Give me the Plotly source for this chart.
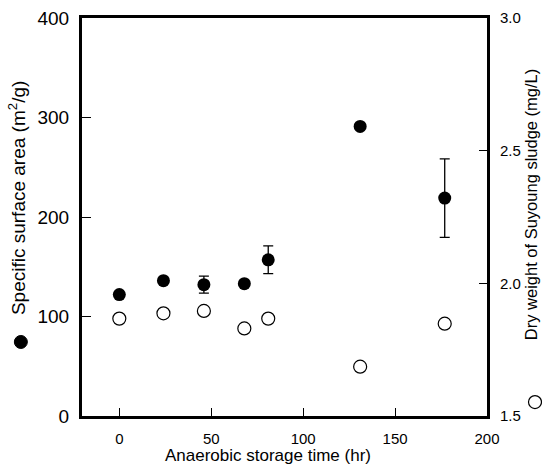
import plotly.graph_objects as go

time_hr = [0, 24, 46, 68, 81, 131, 177]
surface_area = [122, 136, 132, 133, 157, 291, 219]
surface_err = [0, 0, 8.5, 0, 14, 0, 39.5]
dry_weight = [1.867, 1.887, 1.896, 1.830, 1.867, 1.686, 1.848]

x_ticks = [0, 50, 100, 150, 200]
y_ticks = [0, 100, 200, 300, 400]
y2_ticks = [1.5, 2.0, 2.5, 3.0]
y2_labels = ["1.5", "2.0", "2.5", "3.0"]

FONT = "Liberation Sans, Arial, sans-serif"

fig = go.Figure()
fig.add_trace(go.Scatter(
    x=time_hr, y=surface_area, mode="markers",
    marker=dict(symbol="circle", size=13, color="black"),
    error_y=dict(type="data", array=surface_err, visible=True,
                 color="black", thickness=1.3, width=5),
    yaxis="y", showlegend=False, cliponaxis=False))
fig.add_trace(go.Scatter(
    x=time_hr, y=dry_weight, mode="markers",
    marker=dict(symbol="circle-open", size=13, color="black",
                line=dict(width=1.2, color="black")),
    yaxis="y2", showlegend=False, cliponaxis=False))

fig.update_layout(
    width=542, height=464,
    margin=dict(l=82, r=55, t=18, b=48, autoexpand=False),
    paper_bgcolor="white", plot_bgcolor="white",
    font=dict(family=FONT, color="black"),
    xaxis=dict(range=[-20.3, 200], tickvals=x_ticks, ticks="inside",
               ticklen=8, tickwidth=1.2, tickcolor="black",
               showline=True, linecolor="black", linewidth=2.7,
               mirror=True, showgrid=False, zeroline=False,
               tickfont=dict(size=15, family=FONT),
               ticklabelstandoff=7, automargin=False),
    yaxis=dict(range=[0, 400], tickvals=y_ticks, ticks="inside",
               ticklen=9, tickwidth=1.2, tickcolor="black",
               showline=True, linecolor="black", linewidth=3,
               showgrid=False, zeroline=False,
               tickfont=dict(size=19, family=FONT),
               ticklabelstandoff=6, automargin=False),
    yaxis2=dict(range=[1.5, 3.0], tickvals=y2_ticks, ticktext=y2_labels,
                overlaying="y", side="right", ticks="inside",
                ticklen=8, tickwidth=1.2, tickcolor="black",
                showline=True, linecolor="black", linewidth=2.8,
                showgrid=False, zeroline=False,
                tickfont=dict(size=15, family=FONT),
                ticklabelstandoff=7, automargin=False),
)

fig.add_annotation(text="Specific surface area (m<sup>2</sup>/g)",
                   xref="paper", yref="paper", x=-0.160, y=0.548,
                   xanchor="center", yanchor="middle",
                   textangle=-90, showarrow=False,
                   font=dict(size=19, family=FONT))
fig.add_annotation(text="Dry weight of Suyoung sludge (mg/L)",
                   xref="paper", yref="paper", x=1.109, y=0.530,
                   xanchor="center", yanchor="middle",
                   textangle=-90, showarrow=False,
                   font=dict(size=16.5, family=FONT))
fig.add_annotation(text="Anaerobic storage time (hr)",
                   xref="paper", yref="paper", x=0.459, y=-0.098,
                   xanchor="center", yanchor="middle",
                   showarrow=False, font=dict(size=17, family=FONT))

fig.add_shape(type="circle", xref="paper", yref="paper",
              xsizemode="pixel", ysizemode="pixel",
              xanchor=-0.151, yanchor=0.186,
              x0=-6.5, x1=6.5, y0=-6.5, y1=6.5,
              fillcolor="black", line=dict(color="black", width=1))
fig.add_shape(type="circle", xref="paper", yref="paper",
              xsizemode="pixel", ysizemode="pixel",
              xanchor=1.1185, yanchor=0.035,
              x0=-6.5, x1=6.5, y0=-6.5, y1=6.5,
              fillcolor="rgba(0,0,0,0)", line=dict(color="black", width=1.2))

fig.write_html("out.html", config={"displayModeBar": False},
               post_script="document.body.style.margin='0';document.body.style.overflow='hidden';")
